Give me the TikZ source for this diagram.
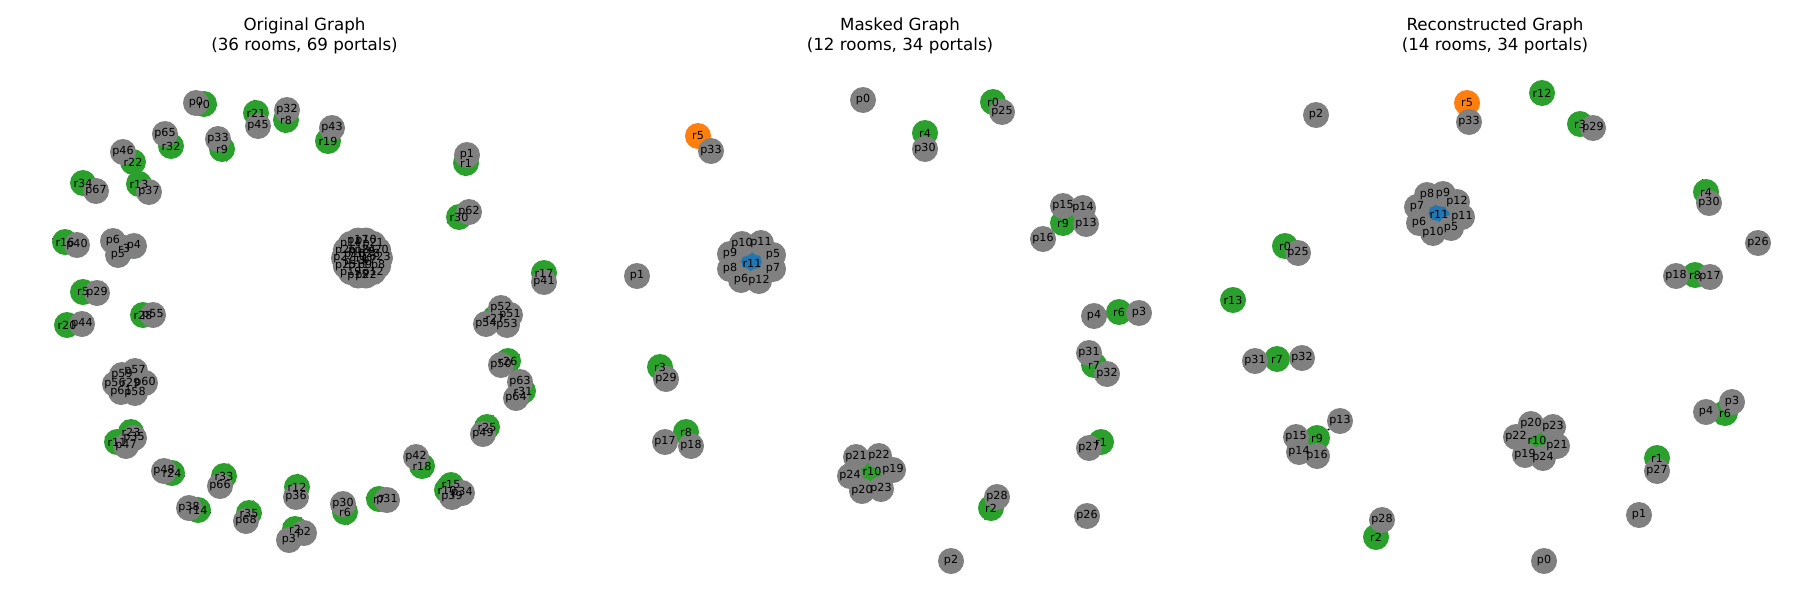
\documentclass[tikz,border=0pt]{standalone}
\usepackage{fontspec}
\setmainfont{DejaVu Sans}
\usetikzlibrary{backgrounds}
\definecolor{tgreen}{HTML}{2CA02C}
\definecolor{tgray}{HTML}{808080}
\definecolor{torange}{HTML}{FF7F0E}
\definecolor{tblue}{HTML}{1F77B4}
\tikzset{
 nodebase/.style={circle,minimum size=26pt,inner sep=0pt,draw=none},
 roomg/.style={nodebase,fill=tgreen},
 roomo/.style={nodebase,fill=torange},
 roomb/.style={nodebase,fill=tblue},
 portal/.style={nodebase,fill=tgray},
 lbl/.style={inner sep=0pt,font=\fontsize{11.1}{13}\selectfont,text=black},
 ttl/.style={inner sep=0pt,font=\fontsize{16.7}{20}\selectfont,anchor=base},
 edge/.style={draw=black,line width=1.3pt}
}
% Panel A (original)
\def\Arooms{r0/204/104,r21/256/113,r8/286/120,r32/171/146,r9/222/149,r22/133/162,r34/83/183,r13/139/184,r16/65/242,r3/124/248,r5/83/292,r28/143/315,r20/67/325,r29/131/382,r23/131/432,r11/117/442,r24/172/473,r33/224/476,r14/198/510,r35/249/513,r12/297/487,r2/295/529,r19/328/141,r1/466/163,r30/459/217,r4/362/258,r17/544/273,r27/495/318,r26/508/361,r31/523/391,r25/487/427,r18/422/466,r15/451/485,r10/447/490,r7/379/499,r6/345/512}
\def\Aportals{p0/196/103,p45/258/126,p32/287/110,p65/165/134,p33/218/139,p46/123/152,p67/96/191,p37/149/192,p40/77/245,p6/113/241,p4/134/246,p5/118/255,p29/97/293,p55/153/315,p44/82/324,p59/122/375,p57/135/371,p56/115/384,p60/145/383,p61/121/392,p58/135/393,p35/134/438,p47/126/446,p48/164/471,p66/220/486,p38/189/508,p68/246/521,p36/296/497,p3/289/540,p2/304/533,p43/332/128,p1/467/155,p62/469/212,p41/544/282,p52/501/308,p51/510/315,p54/486/324,p53/507/325,p50/501/365,p63/520/382,p64/516/398,p49/483/434,p42/416/457,p34/462/493,p39/452/497,p31/387/500,p30/343/504,p23/380/258,p8/378.2/265.8,p12/373.2/272.1,p22/366/275.5,p15/358/275.5,p19/350.8/272.1,p25/345.8/265.8,p27/344/258,p26/345.8/250.2,p14/350.8/243.9,p17/358/240.5,p10/366/240.5,p21/373.2/243.9,p20/378.2/250.2,p7/369.4/261.1,p9/365.1/265.4,p11/358.9/265.4,p13/354.6/261.1,p16/354.6/254.9,p18/358.9/250.6,p24/365.1/250.6,p28/369.4/254.9}
\def\Aedges{r0/p0,r21/p45,r8/p32,r32/p65,r9/p33,r22/p46,r34/p67,r13/p37,r16/p40,r3/p4,r3/p5,r3/p6,r5/p29,r28/p55,r20/p44,r29/p56,r29/p57,r29/p58,r29/p59,r29/p60,r29/p61,r23/p35,r11/p47,r24/p48,r33/p66,r14/p38,r35/p68,r12/p36,r2/p2,r2/p3,r19/p43,r1/p1,r30/p62,r17/p41,r27/p51,r27/p52,r27/p53,r27/p54,r26/p50,r31/p63,r31/p64,r25/p49,r18/p42,r15/p34,r10/p39,r7/p31,r6/p30}
% Panel B (masked)
\def\Bgreen{r0/993/102,r4/925/133,r9/1063/223,r6/1119/312,r3/660/367,r8/686/432,r10/872/471,r7/1094/365,r1/1101/442,r2/991/508}
\def\Bportals{p0/863/100,p33/711/151,p1/637/276,p10/742/244,p11/761/243,p9/730/254,p5/773/255,p8/730/269,p7/773/269,p6/741/280,p12/759/281,p25/1002/112,p30/925/149,p15/1063/206,p14/1083/208,p13/1086/224,p16/1043/239,p4/1094/316,p3/1139/313,p29/666/379,p17/665/442,p18/691/446,p21/856/457,p22/879/456,p19/893/470,p24/850/476,p20/862/491,p23/881/489,p31/1089/353,p32/1107/374,p27/1089/448,p28/997/497,p26/1087/516,p2/951/561}
% Panel C (reconstructed)
\def\Cgreen{r12/1542/93,r3/1580/124,r4/1706/192,r0/1285/246,r13/1233/300,r8/1695/275,r7/1277/359,r9/1317/438,r2/1376/537,r10/1537/440,r6/1725/413,r1/1657/458}
\def\Cportals{p2/1316/115,p33/1469/122,p8/1427/195,p9/1443/194,p12/1457/202,p7/1417/207,p11/1462/217,p6/1419/223,p5/1451/228,p10/1433/233,p29/1593/128,p30/1709/203,p25/1298/253,p26/1758/243,p18/1676/276,p17/1710/277,p31/1255/361,p32/1302/358,p13/1340/421,p15/1296/437,p14/1299/452,p16/1317/456,p28/1382/520,p20/1531/424,p23/1553/427,p22/1516/437,p21/1557/446,p19/1525/455,p24/1543/458,p3/1732/402,p4/1706/412,p27/1657/471,p1/1639/515,p0/1544/561}
\def\BCedges{r0/p25,r4/p30,r5/p33,r9/p13,r9/p14,r9/p15,r9/p16,r6/p3,r6/p4,r3/p29,r8/p17,r8/p18,r10/p19,r10/p20,r10/p21,r10/p22,r10/p23,r10/p24,r7/p31,r7/p32,r1/p27,r2/p28,r11/p5,r11/p6,r11/p7,r11/p8,r11/p9,r11/p10,r11/p11,r11/p12}
\begin{document}
\begin{tikzpicture}[x=1pt,y=-1pt]
\useasboundingbox (0,0) rectangle (1800,600);
% titles
\node[ttl] (At1) at (304.5,30) {Original Graph};
\node[ttl] (At2) at (304.5,50) {(36 rooms, 69 portals)};
\node[ttl] (Bt1) at (900,30) {Masked Graph};
\node[ttl] (Bt2) at (900,50) {(12 rooms, 34 portals)};
\node[ttl] (Ct1) at (1495,30) {Reconstructed Graph};
\node[ttl] (Ct2) at (1495,50) {(14 rooms, 34 portals)};
% ---------- Panel A ----------
\foreach \t/\x/\y in \Arooms {\node[roomg] (A\t) at (\x,\y) {};}
\foreach \t/\x/\y in \Aportals {\node[portal] (A\t) at (\x,\y) {};}
\foreach \t/\x/\y in \Arooms {\node[lbl] (A\t-l) at (A\t) {\t};}
\foreach \t/\x/\y in \Aportals {\node[lbl] (A\t-l) at (A\t) {\t};}
% ---------- Panel B ----------
\node[roomo] (Br5) at (698,136) {};
\node[roomb] (Br11) at (752,263) {};
\foreach \t/\x/\y in \Bgreen {\node[roomg] (B\t) at (\x,\y) {};}
\foreach \t/\x/\y in \Bportals {\node[portal] (B\t) at (\x,\y) {};}
\node[lbl] (Br5-l) at (Br5) {r5};
\node[lbl] (Br11-l) at (Br11) {r11};
\foreach \t/\x/\y in \Bgreen {\node[lbl] (B\t-l) at (B\t) {\t};}
\foreach \t/\x/\y in \Bportals {\node[lbl] (B\t-l) at (B\t) {\t};}
% ---------- Panel C ----------
\node[roomo] (Cr5) at (1467,103) {};
\node[roomb] (Cr11) at (1439,214) {};
\foreach \t/\x/\y in \Cgreen {\node[roomg] (C\t) at (\x,\y) {};}
\foreach \t/\x/\y in \Cportals {\node[portal] (C\t) at (\x,\y) {};}
\node[lbl] (Cr5-l) at (Cr5) {r5};
\node[lbl] (Cr11-l) at (Cr11) {r11};
\foreach \t/\x/\y in \Cgreen {\node[lbl] (C\t-l) at (C\t) {\t};}
\foreach \t/\x/\y in \Cportals {\node[lbl] (C\t-l) at (C\t) {\t};}
% ---------- edges (behind the nodes) ----------
\begin{pgfonlayer}{background}
\fill[white] (0,0) rectangle (1800,600);
\foreach \r/\p in \Aedges {\draw[edge] (A\r) -- (A\p);}
\foreach \i in {7,...,28} {\draw[edge] (Ar4) -- (Ap\i);}
\foreach \r/\p in \BCedges {\draw[edge] (B\r) -- (B\p);}
\foreach \r/\p in \BCedges {\draw[edge] (C\r) -- (C\p);}
\end{pgfonlayer}
\end{tikzpicture}
\end{document}
